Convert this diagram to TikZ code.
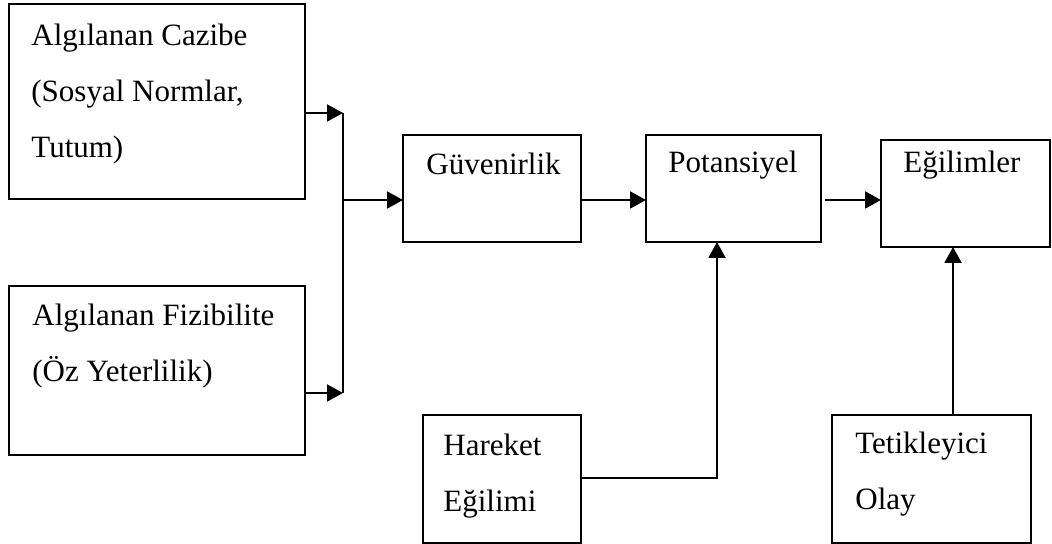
\documentclass[tikz,border=0pt]{standalone}
\usepackage{fontspec}
\setmainfont{Liberation Serif}
\usetikzlibrary{arrows.meta}
\begin{document}
\begin{tikzpicture}[x=0.5pt,y=-0.5pt,
  box/.style={draw,line width=1pt,rectangle,inner sep=0pt,outer sep=0pt,anchor=north west},
  txt/.style={anchor=base west,inner sep=0pt,align=left,font=\fontsize{15.5}{28}\selectfont},
  conn/.style={line width=1pt},
  arr/.style={line width=1pt,-{Triangle[length=8pt,width=8.5pt]}}]
\useasboundingbox (0,0) rectangle (1052,544);
% boxes
\node[box,minimum width=148pt,minimum height=97.5pt] (A) at (9,4) {};
\node[box,minimum width=148pt,minimum height=84.5pt] (C) at (9,286) {};
\node[box,minimum width=89pt,minimum height=53.5pt] (B) at (403,135) {};
\node[box,minimum width=87.5pt,minimum height=53.5pt] (P) at (646,135) {};
\node[box,minimum width=84.5pt,minimum height=53.5pt] (E) at (881,140) {};
\node[box,minimum width=79pt,minimum height=64pt] (H) at (423,415) {};
\node[box,minimum width=99.5pt,minimum height=64pt] (T) at (832,415) {};
% texts (base = baseline of last line)
\node[txt] (At) at (31,158) {Algılanan Cazibe\\(Sosyal Normlar,\\Tutum)};
\node[txt] (Ct) at (32,381) {Algılanan Fizibilite\\(Öz Yeterlilik)};
\node[txt] (Bt) at (426,175) {Güvenirlik};
\node[txt] (Pt) at (668,173) {Potansiyel};
\node[txt] (Et) at (903,173) {Eğilimler};
\node[txt] (Ht) at (443,511) {Hareket\\Eğilimi};
\node[txt] (Tt) at (855,509) {Tetikleyici\\Olay};
% junction coordinates
\coordinate (j1) at (343,113);
\coordinate (j2) at (343,393);
\coordinate (j3) at (343,200);
\coordinate (h1) at (717,478);
\coordinate (t1) at (953,415);
% connectors
\draw[conn] (j1) -- (j2);
\draw[arr] (A.east |- j1) -- (j1);
\draw[arr] (C.east |- j2) -- (j2);
\draw[arr] (j3) -- (B.west |- j3);
\draw[arr] (B.east |- j3) -- (P.west |- j3);
\draw[arr,shorten <=2pt] (P.east |- j3) -- (E.west |- j3);
\draw[arr] (H.east |- h1) -- (h1) -- (P.south -| h1);
\draw[arr] (T.north -| t1) -- (E.south -| t1);
\end{tikzpicture}
\end{document}
